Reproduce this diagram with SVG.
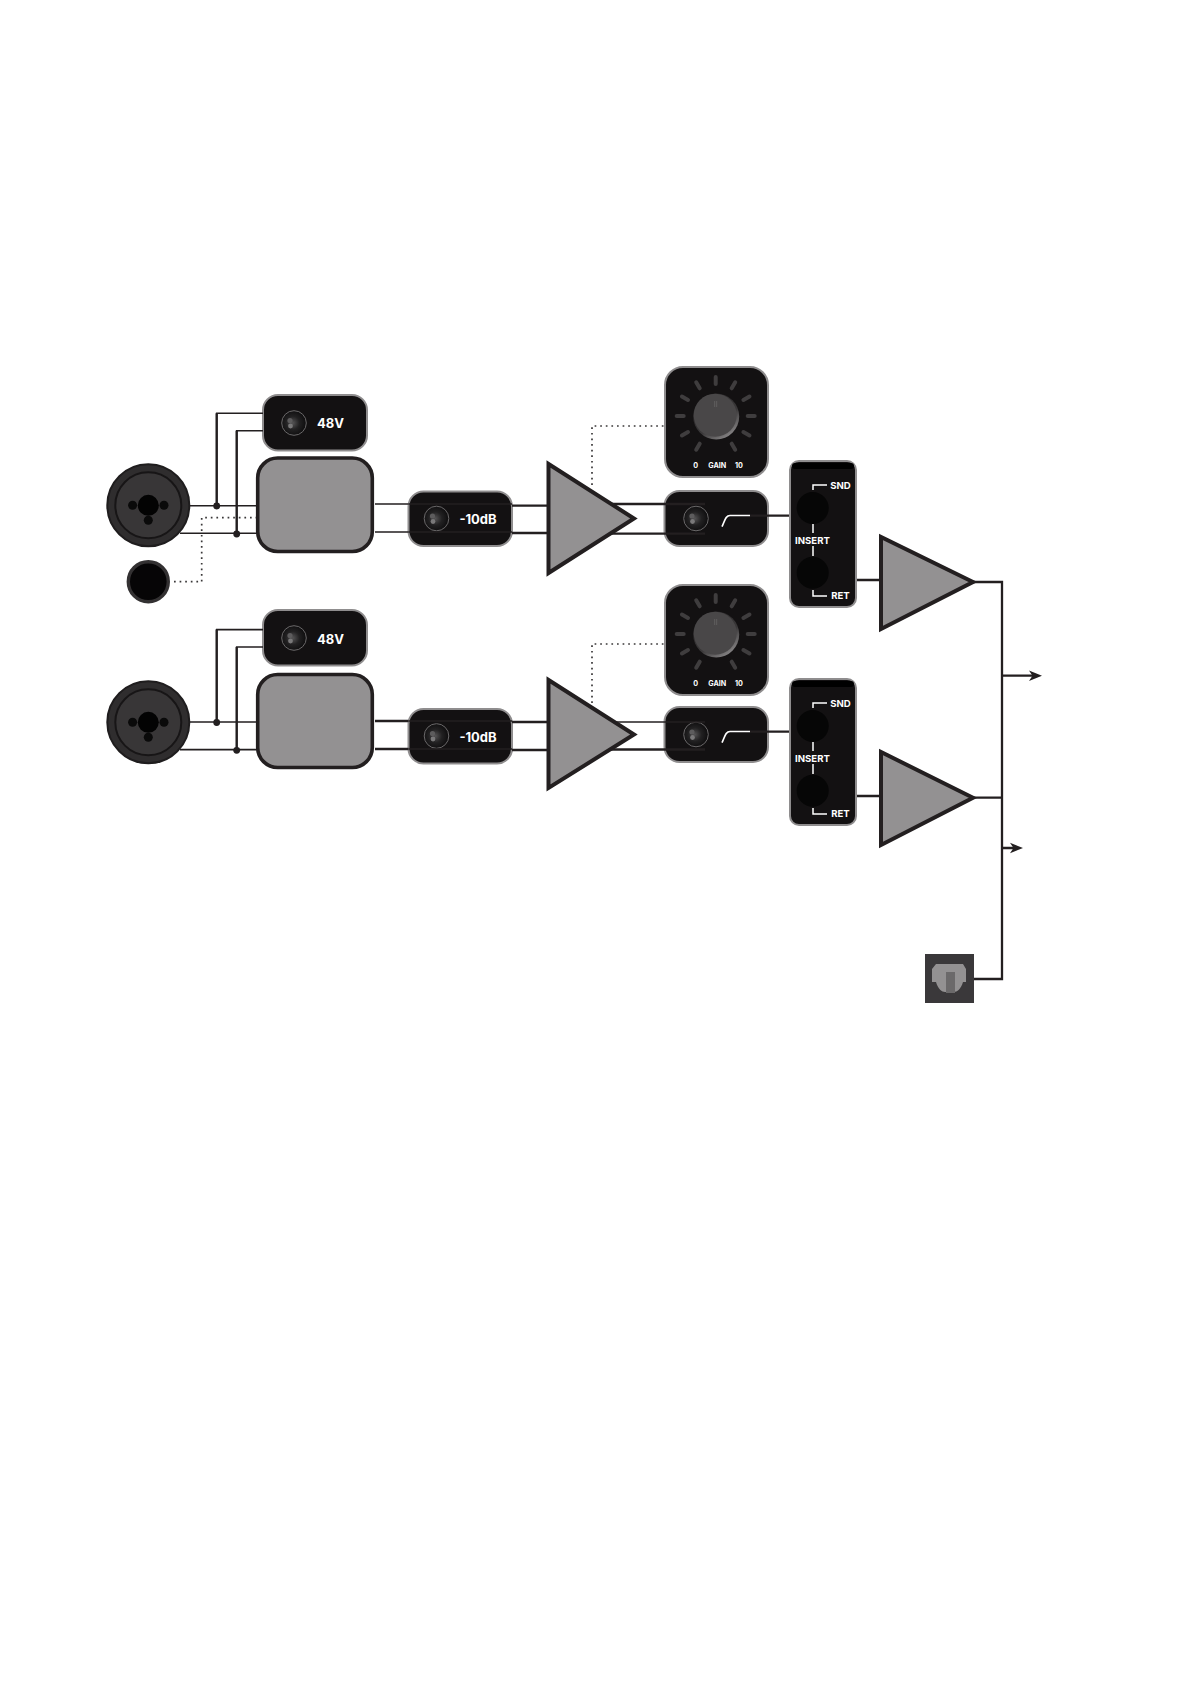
<svg xmlns="http://www.w3.org/2000/svg" xmlns:xlink="http://www.w3.org/1999/xlink" width="1191" height="1684" viewBox="0 0 1191 1684">
<style>
.panel{fill:#131112;stroke:#8f8d8e;stroke-width:2}
.gray{fill:#939192;stroke:#231f20;stroke-width:4;stroke-linejoin:miter}
.grayr{fill:#939192;stroke:#231f20;stroke-width:3.6}
.w{stroke:#231f20;stroke-width:1.6;fill:none}
.t{stroke:#231f20;stroke-width:2.3;fill:none}
.dot{stroke:#3a3839;stroke-width:1.7;fill:none;stroke-dasharray:1.7 3.9}
.lab{font-family:Inter,"Liberation Sans",sans-serif;font-weight:700;fill:#fff}
.tick{stroke:#3f3d3e;stroke-width:4;stroke-linecap:round}
.wl{stroke:#fff;stroke-width:1.5;fill:none}
text{text-anchor:middle}
</style>
<defs>
<radialGradient id="sw" cx="0.45" cy="0.5" r="0.6"><stop offset="0" stop-color="#555455"/><stop offset="0.45" stop-color="#222122"/><stop offset="1" stop-color="#0a090a"/></radialGradient>
<linearGradient id="kn" x1="0.2" y1="0.1" x2="0.8" y2="0.95"><stop offset="0" stop-color="#2a2829"/><stop offset="0.6" stop-color="#3a3839"/><stop offset="1" stop-color="#8a8889"/></linearGradient>
<g id="switch"><circle r="12.3" fill="url(#sw)" stroke="#6a6869" stroke-width="1"/><circle cx="-4" cy="-2.5" r="2.6" fill="#5d5c5d"/><circle cx="-3.5" cy="3" r="2.4" fill="#7a797a"/></g>
<g id="xlr"><circle r="41" fill="#2f2d2e" stroke="#1f1d1e" stroke-width="2"/><circle r="33" fill="#383637" stroke="#171516" stroke-width="2"/><circle r="10.5" fill="#030303"/><circle cx="-15.7" r="4.5" fill="#0a0a0a"/><circle cx="15.7" r="4.5" fill="#0a0a0a"/><circle cy="15" r="4.5" fill="#0a0a0a"/></g>
<g id="tk"><line x1="0" y1="-32" x2="0" y2="-39" class="tick"/></g>
<g id="gain">
<rect x="665" y="367" width="103" height="110" rx="18" class="panel"/>
<g transform="translate(715.7 416)">
<use xlink:href="#tk" href="#tk"/><use href="#tk" transform="rotate(30)"/><use href="#tk" transform="rotate(60)"/><use href="#tk" transform="rotate(90)"/><use href="#tk" transform="rotate(120)"/><use href="#tk" transform="rotate(150)"/><use href="#tk" transform="rotate(210)"/><use href="#tk" transform="rotate(240)"/><use href="#tk" transform="rotate(270)"/><use href="#tk" transform="rotate(300)"/><use href="#tk" transform="rotate(330)"/>
<circle r="23" cx="0.5" cy="0.5" fill="url(#kn)"/><circle r="21.5" cx="-0.5" cy="-0.8" fill="#494748"/>
<path d="M-1 -15V-9M1-15V-9" stroke="#6a6869" stroke-width="0.7"/>
</g>
<text class="lab" font-size="7.2" x="695.7" y="468">0</text><text class="lab" font-size="7.2" x="717.3" y="468">GAIN</text><text class="lab" font-size="7.2" x="739" y="468">10</text>
</g>
<g id="insert">
<rect x="790" y="461" width="66" height="146" rx="9" class="panel"/>
<rect x="792" y="463" width="62" height="6" rx="3" fill="#000"/>
<circle cx="812.7" cy="508" r="16" fill="#060606"/><circle cx="812.7" cy="572.7" r="16" fill="#060606"/>
<path class="wl" d="M813 490V485H827M813 524V533M813 546V556M813 590V596H827"/>
<text class="lab" font-size="9.6" x="840.5" y="488.7">SND</text><text class="lab" font-size="9.6" x="840.5" y="599">RET</text><text class="lab" font-size="9.6" x="812.5" y="544">INSERT</text>
</g>
<g id="hpf">
<rect x="664.5" y="491" width="103.5" height="55" rx="15" class="panel"/>
<use href="#switch" transform="translate(696 518.5)"/>
<path d="M722 526.7C725 520 726 515.5 730 515.5H750" stroke="#fff" stroke-width="1.7" fill="none"/>
</g>
<g id="wires">
<path class="w" d="M190 505.7H257M180 533.3H257M216.7 505.7V413.3H263M236.7 533.3V430.7H263"/>
<path class="t" d="M216.7 505.7V413.3M236.7 533.3V430.7"/>
</g>
</defs>

<g id="channel-1-nodes">
<g id="xlr-1"><use href="#xlr" transform="translate(148.3 505.3)"/></g>
<g id="jack"><circle cx="148.3" cy="581.7" r="20" fill="#060506" stroke="#333132" stroke-width="3.4"/></g>
<g id="phantom-1"><rect x="263" y="395" width="104" height="55.5" rx="15" class="panel"/><use href="#switch" transform="translate(294 423)"/><text class="lab" font-size="13" x="330.5" y="428">48V</text></g>
<g id="preamp-box-1"><rect x="257.7" y="458" width="114.6" height="93.5" rx="20" class="grayr"/></g>
<g id="pad-1"><rect x="408.5" y="491.5" width="103.5" height="54.5" rx="15" class="panel"/><use href="#switch" transform="translate(436.5 518.5)"/><text class="lab" font-size="13" x="478" y="524">-10dB</text></g>
<g id="amp-1"><polygon points="548.5,464 548.5,573 634,518.5" class="gray"/></g>
<g id="gain-1"><use href="#gain"/></g>
<g id="hpf-1"><use href="#hpf"/></g>
<g id="insert-1"><use href="#insert"/></g>
<g id="out-amp-1"><polygon points="881,537 881,629 973,582" class="gray"/></g>
</g>

<g id="channel-2-nodes">
<g id="xlr-2"><use href="#xlr" transform="translate(148.3 722.3)"/></g>
<g id="phantom-2"><rect x="263" y="610" width="104" height="55.5" rx="15" class="panel"/><use href="#switch" transform="translate(294 638)"/><text class="lab" font-size="13" x="330.5" y="644">48V</text></g>
<g id="preamp-box-2"><rect x="257.7" y="674.5" width="114.6" height="93" rx="20" class="grayr"/></g>
<g id="pad-2"><rect x="408.5" y="709" width="103.5" height="54.5" rx="15" class="panel"/><use href="#switch" transform="translate(436.5 736)"/><text class="lab" font-size="13" x="478" y="741.5">-10dB</text></g>
<g id="amp-2"><polygon points="548.5,680 548.5,788 634,734.5" class="gray"/></g>
<g id="gain-2"><use href="#gain" transform="translate(0 218)"/></g>
<g id="hpf-2"><use href="#hpf" transform="translate(0 216)"/></g>
<g id="insert-2"><use href="#insert" transform="translate(0 218)"/></g>
<g id="out-amp-2"><polygon points="881,752 881,845 973,797.7" class="gray"/></g>
</g>

<g id="optical"><rect x="925" y="954" width="49" height="49" fill="#3a383a"/><path d="M936 964H963L966 969V982H963C961 989 957 992 954 992H945C942 992 938 989 936 982H932V969Z" fill="#939192"/><rect x="946" y="972" width="9" height="21" fill="#6b696a"/></g>

<g id="connectors">
<use href="#wires"/><use href="#wires" transform="translate(0 216.3)"/>
<circle cx="216.7" cy="506" r="3.4" fill="#231f20"/><circle cx="236.7" cy="534" r="3.4" fill="#231f20"/><circle cx="216.7" cy="722.5" r="3.4" fill="#231f20"/><circle cx="236.7" cy="750.3" r="3.4" fill="#231f20"/>
<path class="dot" d="M174 581.7H201.7V517.7H256"/>
<path class="dot" d="M592 485V426H665"/><path class="dot" d="M592 703V644H665"/>
<path class="w" d="M375 504H408.5M375 532H408.5"/>
<path class="t" d="M375 721H408.5M375 749H408.5"/>
<path class="w" d="M408.5 504H512M408.5 532H512M408.5 721H512M408.5 749H512"/>
<path class="t" d="M512 505.7H547M512 533H547M512 722H547M512 750H547"/>
<path class="t" d="M612 504H705M611 533.7H705"/>
<path class="w" d="M612 722H705"/><path class="t" d="M611 749.5H705"/>
<path class="t" d="M750 515.7H789M750 731.7H789"/>
<path class="t" d="M857 580H880M857 796H880"/>
<path class="t" d="M972 582H1002V979H974M972 797.7H1002"/>
<path class="t" d="M1002 675.7H1034M1002 848H1014"/>
<path d="M1042 675.7L1029 670.5L1032.5 675.7L1029 681Z" fill="#231f20"/>
<path d="M1023 848L1010 842.8L1013.5 848L1010 853.3Z" fill="#231f20"/>
</g>
</svg>
